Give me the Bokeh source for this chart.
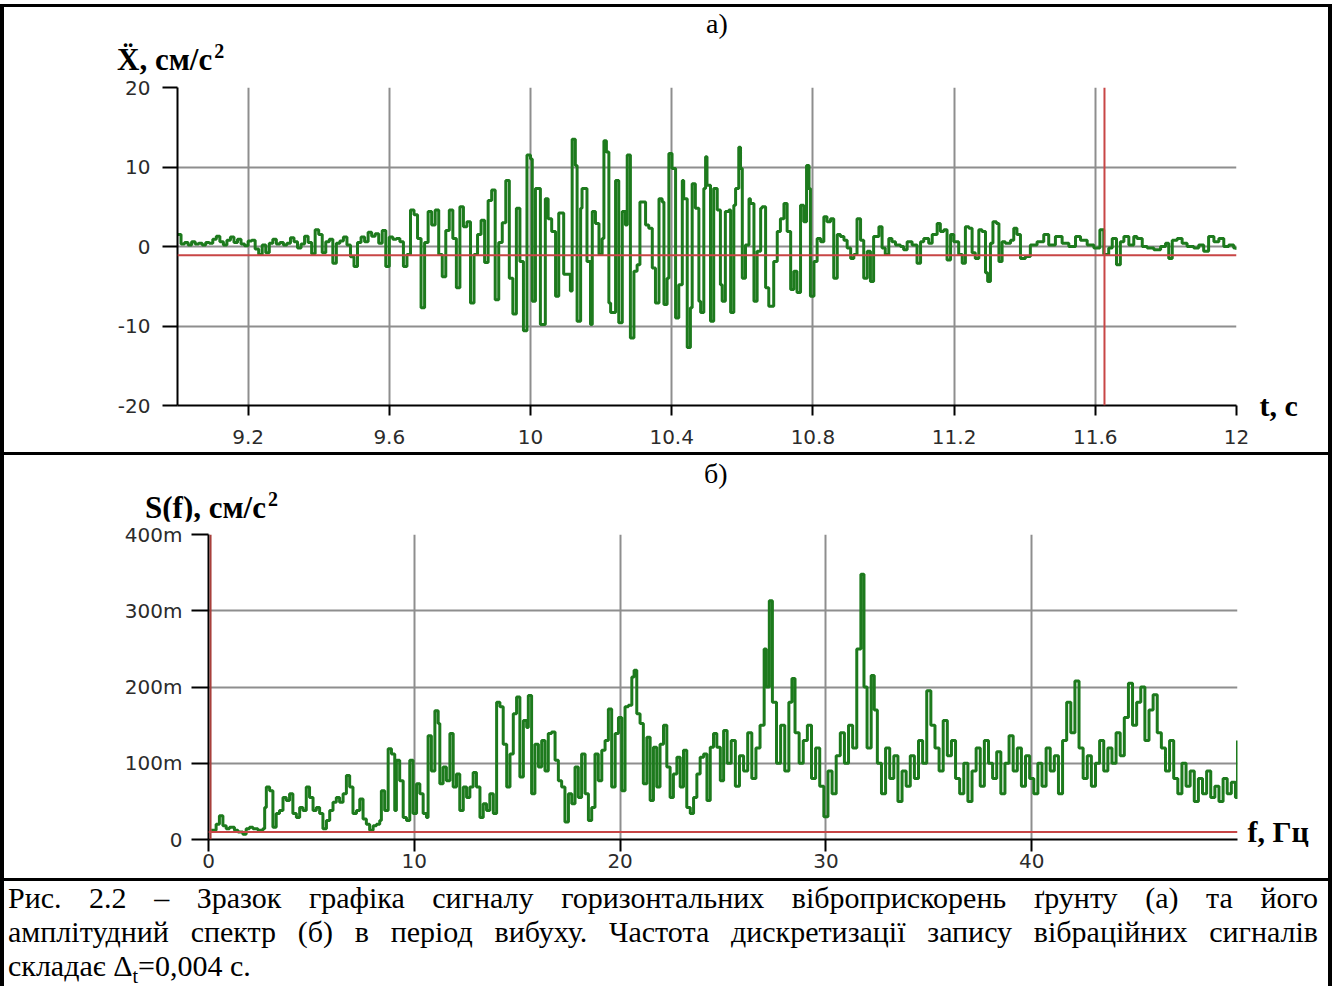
from bokeh.plotting import figure
from bokeh.models import (Range1d, FixedTicker, Span, Div, NumeralTickFormatter, LinearAxis)
from bokeh.layouts import column, row
from bokeh.embed import file_html
from bokeh.resources import INLINE

# ---------------- data: panel a (acceleration, cm/s^2 vs time, s) ----------------
t_a = [9.00, 9.01, 9.02, 9.03, 9.04, 9.05, 9.06, 9.07, 9.08, 9.09,
       9.10, 9.11, 9.12, 9.13, 9.14, 9.15, 9.16, 9.17, 9.18, 9.19,
       9.20, 9.21, 9.22, 9.23, 9.24, 9.25, 9.26, 9.27, 9.28, 9.29,
       9.30, 9.31, 9.32, 9.33, 9.34, 9.35, 9.36, 9.37, 9.38, 9.39,
       9.40, 9.41, 9.42, 9.43, 9.44, 9.45, 9.46, 9.47, 9.48, 9.49,
       9.50, 9.51, 9.52, 9.53, 9.54, 9.55, 9.56, 9.57, 9.58, 9.59,
       9.60, 9.61, 9.62, 9.63, 9.64, 9.65, 9.66, 9.67, 9.68, 9.69,
       9.70, 9.71, 9.72, 9.73, 9.74, 9.75, 9.76, 9.77, 9.78, 9.79,
       9.80, 9.81, 9.82, 9.83, 9.84, 9.85, 9.86, 9.87, 9.88, 9.89,
       9.90, 9.91, 9.92, 9.93, 9.94, 9.95, 9.96, 9.97, 9.98, 9.99,
       10.000, 10.005, 10.014, 10.028, 10.042, 10.050, 10.060, 10.071, 10.080, 10.094,
       10.113, 10.118, 10.127, 10.132, 10.142, 10.146, 10.160, 10.170, 10.175, 10.184,
       10.194, 10.203, 10.208, 10.215, 10.222, 10.227, 10.241, 10.250, 10.260, 10.269,
       10.274, 10.283, 10.293, 10.302, 10.310, 10.326, 10.335, 10.345, 10.354, 10.364,
       10.373, 10.378, 10.387, 10.392, 10.401, 10.411, 10.420, 10.430, 10.434, 10.444,
       10.453, 10.458, 10.467, 10.477, 10.482, 10.491, 10.496, 10.500, 10.510, 10.519,
       10.529, 10.538, 10.543, 10.552, 10.562, 10.567, 10.576, 10.581, 10.590, 10.595,
       10.600, 10.609, 10.619, 10.623, 10.633, 10.642, 10.652, 10.656, 10.666, 10.675,
       10.689, 10.699, 10.708, 10.718, 10.727, 10.737, 10.746, 10.755, 10.765, 10.774,
       10.782, 10.789, 10.793, 10.803, 10.812, 10.822, 10.831, 10.840, 10.850, 10.859,
       10.869, 10.878, 10.888, 10.897, 10.907, 10.916, 10.925, 10.935, 10.944, 10.954,
       10.963, 10.972, 10.987, 10.996, 11.005, 11.015, 11.024, 11.034, 11.048, 11.057,
       11.067, 11.081, 11.095, 11.105, 11.114, 11.128, 11.138, 11.152, 11.161, 11.171,
       11.180, 11.190, 11.199, 11.213, 11.223, 11.232, 11.242, 11.251, 11.260, 11.270,
       11.279, 11.289, 11.295, 11.303, 11.310, 11.320, 11.327, 11.336, 11.345, 11.360,
       11.369, 11.378, 11.388, 11.402, 11.416, 11.435, 11.454, 11.468, 11.487, 11.506,
       11.525, 11.544, 11.558, 11.577, 11.596, 11.613, 11.624, 11.638, 11.648, 11.660,
       11.671, 11.681, 11.695, 11.709, 11.718, 11.733, 11.747, 11.766, 11.785, 11.799,
       11.808, 11.818, 11.832, 11.846, 11.860, 11.879, 11.893, 11.907, 11.921, 11.936,
       11.950, 11.964, 11.978, 11.992, 12.000]
acc_a = [1.5, 0.3, 0.5, 0.2, 0.6, 0.3, 0.4, 0.2, 0.5, 0.4,
         0.9, 1.3, 0.6, 0.2, 0.8, 1.2, 0.5, 0.9, 0.3, 0.1,
         0.7, 0.8, -0.3, -1.0, 0.2, -0.8, 0.4, 0.9, 0.3, 0.5,
         0.2, 0.4, 1.1, 0.6, -0.2, 0.3, 1.3, 0.5, -0.9, 2.1,
         1.5, -0.8, 0.6, 0.9, -2.1, 0.4, 0.7, 1.2, 0.2, -1.3,
         -2.5, 0.5, 1.2, 0.6, 1.8, 1.3, 1.6, 0.4, 2.0, -2.5,
         1.2, 0.9, 1.0, 0.6, -2.5, -1.0, 4.6, 4.0, 1.0, -7.7,
         0.5, 4.4, 2.7, 4.6, -1.0, -3.8, 2.0, 4.6, 1.0, -5.2,
         5.0, 2.5, 3.1, -7.1, -1.0, 1.5, 3.3, -2.0, 5.8, 7.1,
         -6.7, 0.5, 3.0, 8.3, -4.0, -8.5, 4.8, -1.9, -10.6, 11.5,
         11.0, -6.9, 7.3, -9.8, 6.0, 3.5, 1.9, -6.25, 4.2, -3.5,
         -5.6, 13.5, 10.2, -9.4, 4.8, 7.3, -1.9, -9.8, 4.4, 2.9,
         -1.0, 1.0, 13.3, 11.9, -7.1, -8.3, 8.3, -9.6, 4.4, 2.7,
         11.5, -11.5, -3.1, -2.3, 5.6, 2.7, 2.3, -2.7, -7.1, 6.0,
         5.6, -7.3, -4.0, 11.7, 9.8, -9.0, -4.8, 8.3, 6.0, -12.7,
         -7.7, 7.9, 4.8, -6.9, -8.3, 7.3, 11.3, 7.7, -9.4, 7.3,
         4.6, -4.8, -6.9, 4.4, 4.6, -8.3, 5.2, 7.3, 12.5, 9.8,
         -4.0, 0.2, 6.0, 5.4, -6.9, -0.6, 4.8, 5.0, -5.2, -7.5,
         -1.9, 1.9, 3.5, 5.4, 1.9, -5.4, -3.1, -5.8, 5.2, 3.1,
         10.2, 7.3, -6.25, -1.9, 1.0, 0.6, 3.75, 3.1, 3.5, -4.0,
         1.5, 1.25, 0.8, -0.2, -1.5, -1.0, 3.5, 0.8, -4.0, -0.6,
         -4.4, 1.25, 2.5, -0.2, -1.0, 1.0, 0.6, 0.2, 0.0, -0.4,
         0.6, 0.2, -2.1, 0.6, 1.0, 0.4, 1.5, 2.9, 1.9, 2.1,
         -1.7, 1.5, 0.6, -1.0, -2.1, 2.5, 2.3, -0.8, -1.5, 2.1,
         1.9, -3.3, -4.4, 0.4, 3.1, 2.9, -1.9, 0.6, 0.4, 0.8,
         2.3, 1.5, -1.5, -1.25, 0.2, 0.6, 1.5, 0.2, 1.25, 0.4,
         0.0, 1.25, 0.8, 0.2, -0.2, 2.1, -1.0, -0.2, 1.0, -2.3,
         0.6, 1.25, 0.2, 1.25, 1.0, 0.0, -0.2, -0.4, 0.0, 0.4,
         -1.5, 0.8, 1.0, 0.4, 0.0, -0.2, 0.2, -0.6, 1.25, 0.6,
         1.0, 0.0, 0.2, -0.2, -0.4]
t_ticks = [9.2, 9.6, 10, 10.4, 10.8, 11.2, 11.6, 12]
acc_ticks = [-20, -10, 0, 10, 20]
acc_labels = {-20: "-20", -10: "-10", 0: "0", 10: "10", 20: "20"}
acc_grid = [-10, 0, 10]
level_a = -1.1          # red horizontal cursor
cursor_t = 11.626       # red vertical cursor

# ---------------- data: panel b (amplitude spectrum, m-units vs Hz) ----------------
f_b = [0.13, 0.37, 0.53, 0.70, 0.86, 1.02, 1.26, 1.43, 1.67, 1.83,
       1.99, 2.16, 2.40, 2.64, 2.73, 2.81, 2.97, 3.13, 3.29, 3.45,
       3.62, 3.78, 3.94, 4.10, 4.27, 4.43, 4.59, 4.75, 4.91, 5.08,
       5.24, 5.40, 5.56, 5.73, 5.89, 6.05, 6.21, 6.37, 6.54, 6.70,
       6.86, 7.02, 7.19, 7.35, 7.51, 7.67, 7.83, 8.00, 8.16, 8.32,
       8.40, 8.56, 8.73, 8.89, 9.05, 9.13, 9.29, 9.46, 9.62, 9.78,
       9.94, 10.11, 10.27, 10.43, 10.59, 10.67, 10.83, 11.00, 11.16, 11.24,
       11.40, 11.56, 11.73, 11.89, 12.05, 12.21, 12.38, 12.54, 12.70, 12.86,
       13.02, 13.19, 13.35, 13.51, 13.67, 13.84, 14.00, 14.16, 14.32, 14.49,
       14.65, 14.81, 14.97, 15.13, 15.30, 15.46, 15.54, 15.70, 15.86, 16.03,
       16.19, 16.35, 16.51, 16.67, 16.84, 17.00, 17.16, 17.32, 17.49, 17.65,
       17.81, 17.97, 18.13, 18.30, 18.46, 18.62, 18.78, 18.94, 19.11, 19.27,
       19.43, 19.59, 19.76, 19.92, 20.08, 20.24, 20.40, 20.57, 20.68, 20.81,
       20.97, 21.13, 21.30, 21.46, 21.62, 21.78, 21.94, 22.11, 22.27, 22.43,
       22.59, 22.76, 22.92, 23.08, 23.24, 23.41, 23.57, 23.73, 23.89, 24.06,
       24.22, 24.38, 24.54, 24.70, 24.87, 25.03, 25.2, 25.4, 25.6, 25.8,
       26.0, 26.2, 26.4, 26.6, 26.8, 27.0, 27.1, 27.25, 27.4, 27.6,
       27.8, 28.0, 28.2, 28.35, 28.5, 28.7, 28.9, 29.1, 29.3, 29.5,
       29.7, 29.9, 30.1, 30.3, 30.5, 30.7, 30.9, 31.1, 31.3, 31.5,
       31.7, 31.85, 32.0, 32.2, 32.35, 32.5, 32.7, 32.9, 33.1, 33.3,
       33.5, 33.7, 33.9, 34.1, 34.3, 34.5, 34.7, 34.9, 35.1, 35.3,
       35.5, 35.7, 35.9, 36.1, 36.3, 36.5, 36.7, 36.9, 37.1, 37.3,
       37.5, 37.7, 37.9, 38.1, 38.3, 38.5, 38.7, 38.9, 39.1, 39.3,
       39.5, 39.7, 39.9, 40.1, 40.3, 40.5, 40.7, 40.9, 41.1, 41.3,
       41.5, 41.7, 41.9, 42.1, 42.3, 42.5, 42.7, 42.9, 43.1, 43.3,
       43.5, 43.7, 43.9, 44.1, 44.3, 44.5, 44.7, 44.9, 45.1, 45.3,
       45.5, 45.7, 45.9, 46.1, 46.3, 46.5, 46.7, 46.9, 47.1, 47.3,
       47.5, 47.7, 47.9, 48.1, 48.3, 48.5, 48.7, 48.9, 49.1, 49.3,
       49.5, 49.7, 49.9, 50.0]
s_b = [12, 20, 31, 18, 14, 16, 12, 10, 7, 14,
       16, 14, 12, 14, 42, 69, 64, 16, 34, 38,
       55, 51, 60, 34, 29, 42, 38, 69, 55, 38,
       42, 34, 14, 25, 38, 49, 55, 49, 60, 84,
       69, 34, 38, 53, 27, 20, 12, 18, 20, 25,
       64, 38, 119, 112, 38, 104, 77, 29, 25, 104,
       34, 73, 60, 34, 29, 136, 90, 169, 152, 73,
       95, 77, 139, 69, 86, 38, 69, 55, 69, 88,
       69, 29, 47, 38, 60, 34, 180, 174, 125, 69,
       112, 165, 187, 82, 156, 147, 189, 60, 125, 95,
       130, 90, 139, 141, 104, 77, 69, 23, 60, 47,
       95, 55, 112, 60, 25, 42, 112, 77, 117, 130,
       171, 69, 139, 160, 64, 174, 176, 213, 222, 165,
       152, 73, 134, 51, 121, 69, 125, 150, 95, 55,
       86, 108, 69, 117, 42, 34, 55, 86, 108, 112,
       51, 121, 139, 121, 77, 143, 100, 130, 70, 110,
       90, 140, 80, 120, 150, 250, 200, 313, 180, 100,
       150, 90, 180, 211, 140, 100, 130, 150, 80, 120,
       70, 30, 90, 60, 110, 140, 100, 150, 120, 250,
       348, 200, 120, 215, 170, 100, 60, 120, 80, 110,
       50, 90, 70, 110, 80, 130, 100, 195, 150, 120,
       90, 156, 110, 130, 80, 60, 100, 50, 90, 120,
       70, 130, 100, 80, 115, 60, 100, 136, 90, 120,
       70, 110, 80, 60, 100, 70, 120, 90, 110, 60,
       130, 180, 140, 208, 120, 80, 110, 70, 100, 130,
       90, 120, 100, 140, 110, 160, 205, 150, 180, 200,
       130, 170, 190, 140, 120, 90, 130, 80, 60, 100,
       70, 90, 50, 80, 60, 90, 55, 70, 50, 80,
       60, 75, 55, 130]
f_ticks = [0, 10, 20, 30, 40]
f_grid = [10, 20, 30, 40]
s_ticks = [0, 100, 200, 300, 400]
s_labels = {0: "0", 100: "100m", 200: "200m", 300: "300m", 400: "400m"}
s_grid = [100, 200, 300]
level_b = 10            # red horizontal cursor (m-units)
cursor_f = 0.1          # red vertical cursor

# ---------------- texts ----------------
title_a = "X&#776;, см/с"
title_b = "S(f), см/с"
title_sup = "2"
xname_a = "t, c"
xname_b = "f, Гц"
panel_a = "а)"
panel_b = "б)"
line1 = "Рис. 2.2 – Зразок графіка сигналу горизонтальних віброприскорень ґрунту (а) та його"
line2 = "амплітудний спектр (б) в період вибуху. Частота дискретизації запису вібраційних сигналів"
line3 = "складає Δ<sub style=\"font-size:20px;\">t</sub>=0,004 с."

# ---------------- styling ----------------
GREEN = "#1d7a1d"
RED = "#c84646"
DARKRED = "#a8403c"
GRID = "#8e8e8e"
TICKFONT = "DejaVu Sans"
SERIF = "Liberation Serif"
TICKCOL = "#2b2b2b"


def black(w, h):
    return Div(text="", width=w, height=h, margin=0,
               styles={"background-color": "black"})


def white(w, h):
    return Div(text="", width=w, height=h, margin=0,
               styles={"background-color": "white"})


def header(letter, letter_left, letter_top, title, title_left, title_top, height):
    html = (
        f'<div style="position:relative;width:1324px;height:{height}px;'
        f'font-family:\'Liberation Serif\',\'Times New Roman\',serif;color:black;">'
        f'<span style="position:absolute;left:{letter_left}px;top:{letter_top}px;'
        f'font-size:28px;line-height:28px;white-space:nowrap;">{letter}</span>'
        f'<span style="position:absolute;left:{title_left}px;top:{title_top}px;'
        f'font-size:31px;line-height:31px;font-weight:bold;white-space:nowrap;">{title}'
        f'<span style="font-size:20px;position:relative;top:-12px;margin-left:2px;">{title_sup}</span>'
        f'</span></div>'
    )
    return Div(text=html, width=1324, height=height, margin=0,
               styles={"background-color": "white"})


def add_name_axis(p, tick, text, standoff):
    ax = LinearAxis(ticker=FixedTicker(ticks=[tick]), major_label_overrides={tick: text})
    ax.axis_line_color = None
    ax.major_tick_line_color = None
    ax.minor_tick_line_color = None
    ax.major_label_standoff = standoff
    ax.major_label_text_font = SERIF
    ax.major_label_text_font_size = "30px"
    ax.major_label_text_font_style = "bold"
    ax.major_label_text_color = "black"
    p.add_layout(ax, "right")


def style_axes(p, x_out, y_out, x_stand, y_stand):
    for ax in (p.xaxis[0], p.yaxis[0]):
        ax.axis_line_color = "black"
        ax.axis_line_width = 2
        ax.major_tick_line_color = "black"
        ax.major_tick_line_width = 2
        ax.major_tick_in = 0
        ax.minor_tick_in = 0
        ax.minor_tick_out = 0
        ax.major_label_text_font = TICKFONT
        ax.major_label_text_font_size = "20px"
        ax.major_label_text_color = TICKCOL
    p.xaxis[0].major_tick_out = x_out
    p.yaxis[0].major_tick_out = y_out
    p.xaxis[0].major_label_standoff = x_stand
    p.yaxis[0].major_label_standoff = y_stand
    p.grid.grid_line_color = GRID
    p.grid.grid_line_width = 2
    p.outline_line_color = None


# ---------------- panel a ----------------
pa = figure(width=1324, height=378, x_range=Range1d(9.0, 12.0), y_range=Range1d(-20, 20),
            output_backend="svg", toolbar_location=None, margin=0,
            min_border_left=173, min_border_right=92, min_border_top=13, min_border_bottom=47)
pa.xaxis.ticker = FixedTicker(ticks=t_ticks)
pa.xaxis.formatter = NumeralTickFormatter(format="0.[0]")
pa.yaxis.ticker = FixedTicker(ticks=acc_ticks)
pa.yaxis.major_label_overrides = acc_labels
pa.xgrid.ticker = FixedTicker(ticks=t_ticks)
pa.ygrid.ticker = FixedTicker(ticks=acc_grid)
style_axes(pa, 10, 15, 14, 12)

pa.step(t_a, acc_a, mode="after", line_color=GREEN, line_width=3)
pa.add_layout(Span(location=level_a, dimension="width", line_color=RED, line_width=2))
pa.add_layout(Span(location=cursor_t, dimension="height", line_color=RED, line_width=2))
add_name_axis(pa, -20, xname_a, 17)

# ---------------- panel b ----------------
pb = figure(width=1324, height=357, x_range=Range1d(0, 50), y_range=Range1d(0, 400),
            output_backend="svg", toolbar_location=None, margin=0,
            min_border_left=204, min_border_right=91, min_border_top=13, min_border_bottom=39)
pb.xaxis.ticker = FixedTicker(ticks=f_ticks)
pb.yaxis.ticker = FixedTicker(ticks=s_ticks)
pb.yaxis.major_label_overrides = s_labels
pb.xgrid.ticker = FixedTicker(ticks=f_grid)
pb.ygrid.ticker = FixedTicker(ticks=s_grid)
style_axes(pb, 12, 17, 2, 9)

pb.add_layout(Span(location=cursor_f, dimension="height", line_color=DARKRED, line_width=2))
pb.step(f_b, s_b, mode="after", line_color=GREEN, line_width=3)
pb.add_layout(Span(location=level_b, dimension="width", line_color=RED, line_width=2))
add_name_axis(pb, level_b, xname_b, 4)

# ---------------- caption ----------------
cap_html = (
    '<div style="font-family:\'Liberation Serif\',\'Times New Roman\',serif;'
    'font-size:30px;line-height:34px;color:black;padding:0 3px 0 4px;width:1317px;">'
    f'<div style="text-align:justify;text-align-last:justify;">{line1}</div>'
    f'<div style="text-align:justify;text-align-last:justify;">{line2}</div>'
    f'<div style="text-align:left;">{line3}</div>'
    '</div>'
)
caption = Div(text=cap_html, width=1324, height=105, margin=0,
              styles={"background-color": "white"})

head_a = header(panel_a, 702, 3, title_a, 113, 37, 67)
head_b = header(panel_b, 700, 5, title_b, 141, 37, 66)

layout = column(
    white(1332, 4),
    black(1332, 3),
    row(black(4, 67), head_a, black(4, 67), margin=0, spacing=0),
    row(black(4, 378), pa, black(4, 378), margin=0, spacing=0),
    black(1332, 3),
    row(black(4, 66), head_b, black(4, 66), margin=0, spacing=0),
    row(black(4, 357), pb, black(4, 357), margin=0, spacing=0),
    black(1332, 3),
    row(black(4, 105), caption, black(4, 105), margin=0, spacing=0),
    margin=0, spacing=0,
)

open("out.html", "w").write(file_html(layout, INLINE))
